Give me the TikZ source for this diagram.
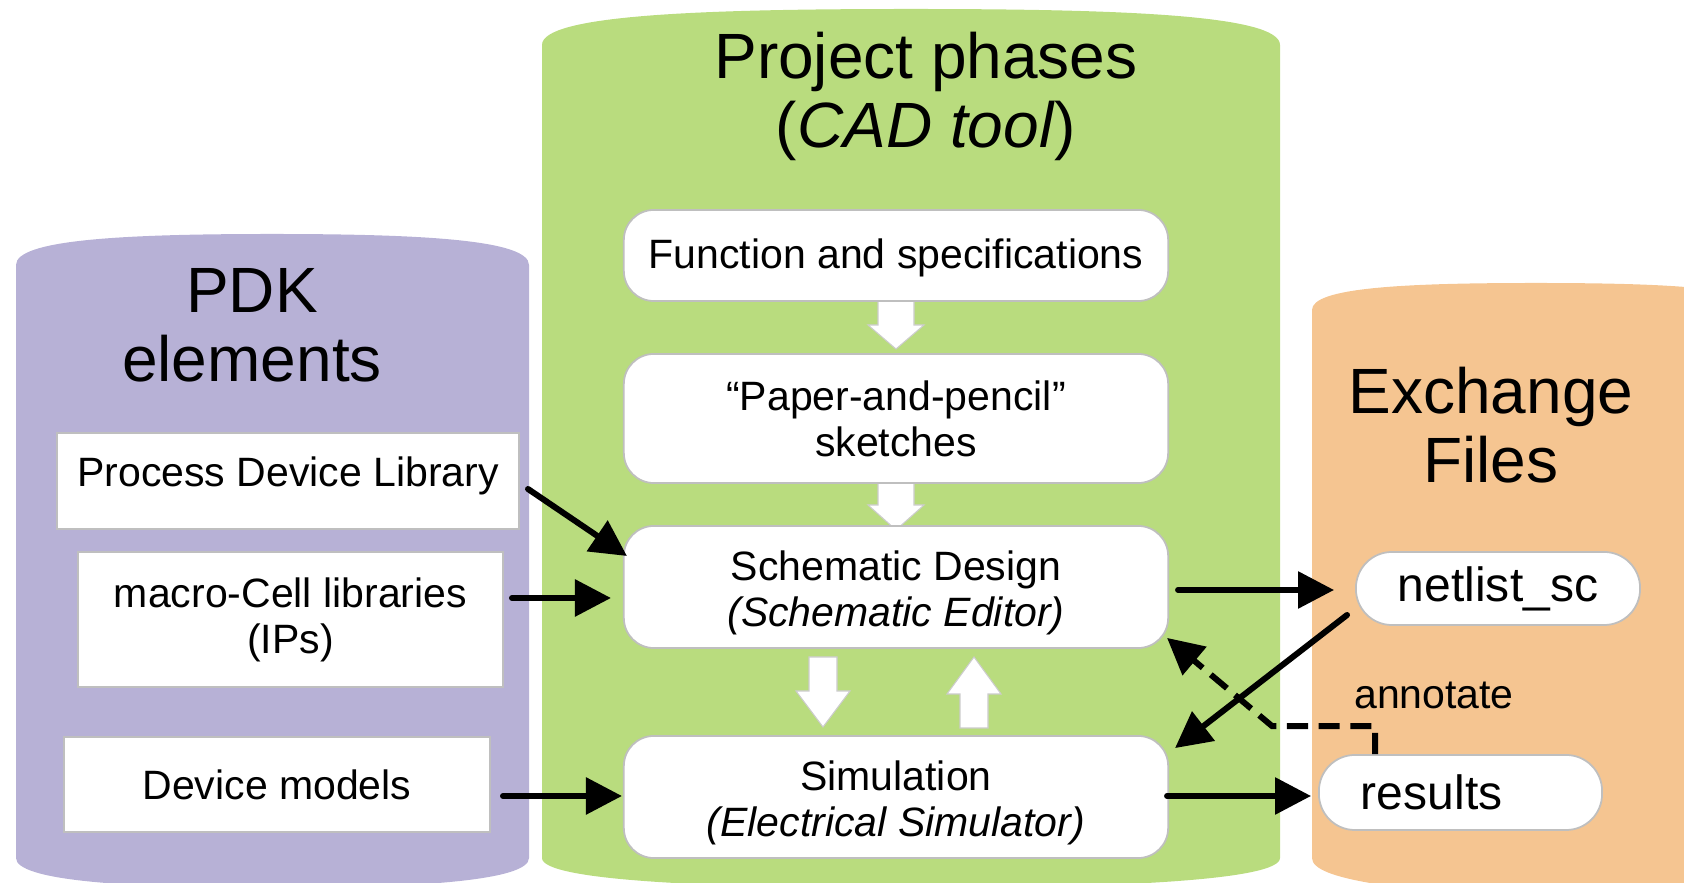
\documentclass[tikz,border=0pt]{standalone}
\usepackage{fontspec}
\setmainfont{Liberation Sans}
\usetikzlibrary{arrows.meta,calc}
\definecolor{pdkc}{RGB}{183,177,214}
\definecolor{cadc}{RGB}{185,220,126}
\definecolor{exc}{RGB}{245,197,145}
\newcommand\blkarrow[6]{% x, tail y, tip y, shaft half, head half, signed head length
  \filldraw[fill=white, draw=black!20, line width=0.3pt]
    (#1-#4,#2) -- (#1+#4,#2) -- (#1+#4,#3-#6) -- (#1+#5,#3-#6) -- (#1,#3)
    -- (#1-#5,#3-#6) -- (#1-#4,#3-#6) -- cycle;}
\newcommand\upper{\rule{0pt}{1.02em}}
\begin{document}
\begin{tikzpicture}[x=0.01cm,y=-0.01cm,
  txt/.style={font=\fontsize{11.66}{13.1}\selectfont, align=center, inner sep=0pt},
  title/.style={font=\fontsize{18.2}{19.63}\selectfont, align=center, inner sep=0pt, anchor=north},
  libbox/.style={draw=black!25, line width=0.5pt, fill=white, rectangle, txt},
  phase/.style={draw=black!25, line width=0.5pt, fill=white, rounded corners=0.3cm, minimum width=5.44cm, txt},
  pill/.style={draw=black!25, line width=0.5pt, fill=white, rounded corners=0.36cm, font=\fontsize{13.66}{15}\selectfont, inner sep=0pt},
  conn/.style={line width=1.7pt, line cap=round, -{Triangle[length=3.6mm,width=3.6mm]}},
  dconn/.style={conn, line cap=butt, dash pattern=on 6pt off 3pt}]
\useasboundingbox (0,0) rectangle (1684,883);
\clip (0,0) rectangle (1684,883);
% panels
\fill[pdkc] (16,265) .. controls (16,240) and (120,234) .. (272,234) .. controls (424,234) and (529,240) .. (529,265)
  -- (529,858) .. controls (529,880) and (424,888) .. (272,888) .. controls (120,888) and (16,880) .. (16,858) -- cycle;
\fill[cadc] (542,45) .. controls (542,15) and (700,9) .. (911,9) .. controls (1122,9) and (1280,15) .. (1280,45)
  -- (1280,858) .. controls (1280,880) and (1122,888) .. (911,888) .. controls (700,888) and (542,880) .. (542,858) -- cycle;
\fill[exc] (1312,310) .. controls (1312,288) and (1400,283) .. (1536,283) .. controls (1672,283) and (1760,288) .. (1760,310)
  -- (1760,900) -- (1536,900) .. controls (1400,890) and (1312,880) .. (1312,858) -- cycle;
% titles
\node[title] (pdkt) at (252,268) {PDK\\elements};
\node[title] (cadt) at (926,31) {Project phases\\(\textit{CAD tool})};
\node[title] (exct) at (1491,366) {Exchange\\Files};
% white block arrows
\blkarrow{896}{296}{349}{18}{28}{24}
\blkarrow{896}{476}{530}{18}{28}{25}
\blkarrow{823}{657}{727}{14}{27}{36}
\blkarrow{974}{728}{657}{14}{27}{-37}
% phase boxes
\node[phase, minimum height=0.91cm] (fun) at (896,255.5) {\rule{0pt}{0.85em}Function and specifications};
\node[phase, minimum height=1.29cm] (pap) at (896,418.5) {“Paper-and-pencil”\\sketches};
\node[phase, minimum height=1.22cm] (sch) at (896,587) {\upper Schematic Design\\\textit{(Schematic Editor)}};
\node[phase, minimum height=1.22cm] (sim) at (896,797) {\upper Simulation\\\textit{(Electrical Simulator)}};
% library boxes
\node[libbox, minimum width=4.62cm, minimum height=0.96cm] (pdl) at (288,481) {Process Device Library\rule[-0.45em]{0pt}{0pt}};
\node[libbox, minimum width=4.25cm, minimum height=1.35cm] (mac) at (290.5,619.5) {macro-Cell libraries\\(IPs)};
\node[libbox, minimum width=4.26cm, minimum height=0.95cm] (dev) at (277,784.5) {Device models};
% exchange files
\node[pill, minimum width=2.84cm, minimum height=0.73cm] (net) at (1498,588.5) {netlist\_sc};
\node[pill, minimum height=0.75cm, text width=1.99cm, inner xsep=0.42cm, align=left] (res) at (1460.5,792.5) {results};
\node[txt] (ann) at (1434,695) {annotate};
% connectors
\draw[conn] ([shift={(8,8)}]pdl.east) -- ([shift={(4,-31)}]sch.west);
\draw[conn] ([shift={(8,-21.5)}]mac.east) -- ([shift={(-12,11)}]sch.west);
\draw[conn] ([shift={(12,11.5)}]dev.east) -- ([shift={(-1,-1)}]sim.west);
\draw[conn] ([shift={(9,3)}]sch.east) -- ([shift={(-21,1.5)}]net.west);
\draw[conn] ([shift={(-8,26.5)}]net.west) -- ([shift={(6,13)}]sim.north east);
\draw[conn] ([shift={(-2,-1)}]sim.east) -- ([shift={(-7,3.5)}]res.west);
\coordinate (rtop) at ($(res.north west)!0.2!(res.north east)$);
\draw[dconn] (rtop) -- ++(0,-28) -- ++(-103,0) -- ([shift={(-2,-11)}]sch.south east);
\end{tikzpicture}
\end{document}
